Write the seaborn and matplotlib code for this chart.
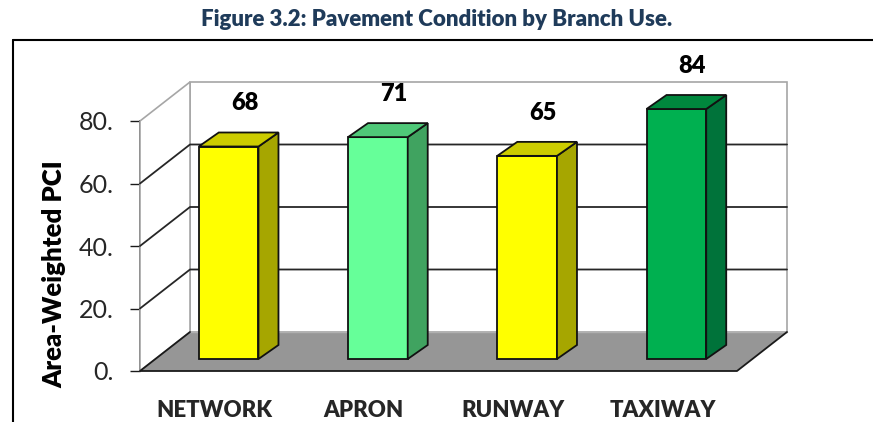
import numpy as np
import pandas as pd
import matplotlib
matplotlib.use("Agg")
import matplotlib.pyplot as plt
from matplotlib.patches import Polygon
from matplotlib.lines import Line2D
import seaborn as sns

# ---- data ----
categories = ["NETWORK", "APRON", "RUNWAY", "TAXIWAY"]
pci = [68, 71, 65, 84]
y_ticks = [0, 20, 40, 60, 80]
y_tick_labels = ["0.", "20.", "40.", "60.", "80."]
front_colors = ["#FFFF00", "#66FF99", "#FFFF00", "#00B050"]
top_colors = ["#CCCC00", "#4FC878", "#CCCC00", "#00873D"]
side_colors = ["#A6A600", "#40A360", "#A6A600", "#00733A"]
title = "Figure 3.2: Pavement Condition by Branch Use."
y_label = "Area-Weighted PCI"

sns.set_theme(style="white")
plt.rcParams["font.family"] = ["Lato", "DejaVu Sans"]

W, H = 873, 422
fig = plt.figure(figsize=(W / 100, H / 100), dpi=100)

# front plane of the 3-D box (pixel geometry)
x0_px, x1_px = 140, 737
y0_px, y1_px = 371, 121
ax = fig.add_axes([x0_px / W, 1 - y0_px / H, (x1_px - x0_px) / W, (y0_px - y1_px) / H])
y_max = 80
ax.set_xlim(-0.5, len(categories) - 0.5)
ax.set_ylim(0, y_max)
ax.patch.set_alpha(0)
for s in ax.spines.values():
    s.set_visible(False)

D = np.array([50.0, 39.0])    # full depth (display px, y up)
BF = np.array([14.0, 12.0])   # bar front offset
BB = np.array([34.0, 26.0])   # bar back offset

def P(x, y, off=(0, 0)):
    p = ax.transData.transform((x, y))
    return p + np.asarray(off)

def poly(pts, fc, ec, lw=1.0, z=1):
    pg = Polygon(np.array(pts), closed=True, facecolor=fc, edgecolor=ec, lw=lw,
                 transform=None, zorder=z, clip_on=False)
    fig.add_artist(pg)

def line(pts, color, lw=1.2, z=2):
    pts = np.array(pts)
    fig.add_artist(Line2D(pts[:, 0], pts[:, 1], color=color, lw=lw,
                          transform=None, zorder=z, clip_on=False))

xl, xr = -0.5, len(categories) - 0.5
# back wall and side wall
poly([P(xl, 0, D), P(xr, 0, D), P(xr, y_max, D), P(xl, y_max, D)], "white", "#A6A6A6", 1.2, 0.5)
poly([P(xl, 0), P(xl, 0, D), P(xl, y_max, D), P(xl, y_max)], "white", "#A6A6A6", 1.2, 0.5)
# gridlines
for v in y_ticks[1:-1]:
    line([P(xl, v), P(xl, v, D), P(xr, v, D)], "#262626", 1.3, 0.8)
# floor
poly([P(xl, 0), P(xr, 0), P(xr, 0, D), P(xl, 0, D)], "#969696", "none", 0, 0.9)
line([P(xl, 0, D), P(xr, 0, D)], "#B0B0B0", 1.0, 0.95)
line([P(xl, 0, D), P(xl, 0), P(xr, 0), P(xr, 0, D)], "#1A1A1A", 1.3, 0.95)

# ---- bars via seaborn ----
shown = np.minimum(pci, y_max)   # chart clips at the axis maximum
df = pd.DataFrame({"branch": categories, "pci": shown})
sns.barplot(data=df, x="branch", y="pci", hue="branch", palette=front_colors,
            width=0.4, legend=False, ax=ax, saturation=1)

for bar, tc, sc in zip(ax.patches, top_colors, side_colors):
    bx, bw, bh = bar.get_x(), bar.get_width(), bar.get_height()
    poly([P(bx, 0, BF), P(bx + bw, 0, BF), P(bx + bw, bh, BF), P(bx, bh, BF)],
         bar.get_facecolor(), "#111111", 1.3, 3)
    bar.set_visible(False)
    poly([P(bx + bw, 0, BF), P(bx + bw, 0, BB), P(bx + bw, bh, BB), P(bx + bw, bh, BF)],
         sc, "#111111", 1.3, 3)
    poly([P(bx, bh, BF), P(bx + bw, bh, BF), P(bx + bw, bh, BB), P(bx, bh, BB)],
         tc, "#111111", 1.3, 3)

# value labels
for i, (v, s) in enumerate(zip(pci, shown)):
    px = P(i, s + 17.6, (30, 0))
    fig.text(px[0] / W, px[1] / H, f"{v}", ha="center", va="center",
             fontsize=17, fontweight="heavy", color="black")

# axes lines and ticks
ax.set_yticks(y_ticks)
ax.set_yticklabels(y_tick_labels, fontsize=18)
ax.set_xticks(range(len(categories)))
ax.set_xticklabels(categories, fontsize=16, fontweight="heavy")
ax.set_xticks(np.arange(len(categories) + 1) - 0.5, minor=True)
ax.tick_params(axis="x", which="major", length=0, pad=21)
ax.tick_params(axis="x", which="minor", length=6, width=1.0, color="#1A1A1A", direction="out")
ax.tick_params(axis="y", length=7, width=1.0, color="#1A1A1A", direction="out", pad=12, left=True)
ax.spines["left"].set_visible(True)
ax.spines["left"].set_color("#1A1A1A")
ax.spines["left"].set_linewidth(1.3)
ax.set_xlabel("")
ax.set_ylabel("")
fig.text(54 / W, 1 - 274 / H, y_label, rotation=90, ha="center", va="center",
         fontsize=18.5, fontweight="heavy", color="black")

# frame and title
fig.add_artist(Line2D([13 / W, 1], [1 - 40 / H, 1 - 40 / H], color="black", lw=1.5,
                      transform=fig.transFigure))
fig.add_artist(Line2D([13 / W, 13 / W], [0, 1 - 40 / H], color="black", lw=1.5,
                      transform=fig.transFigure))
fig.text(437 / W, 1 - 20 / H, title, ha="center", va="center", fontsize=16,
         fontweight="heavy", color="#1F3B5A")

fig.savefig("out.png", dpi=100)
